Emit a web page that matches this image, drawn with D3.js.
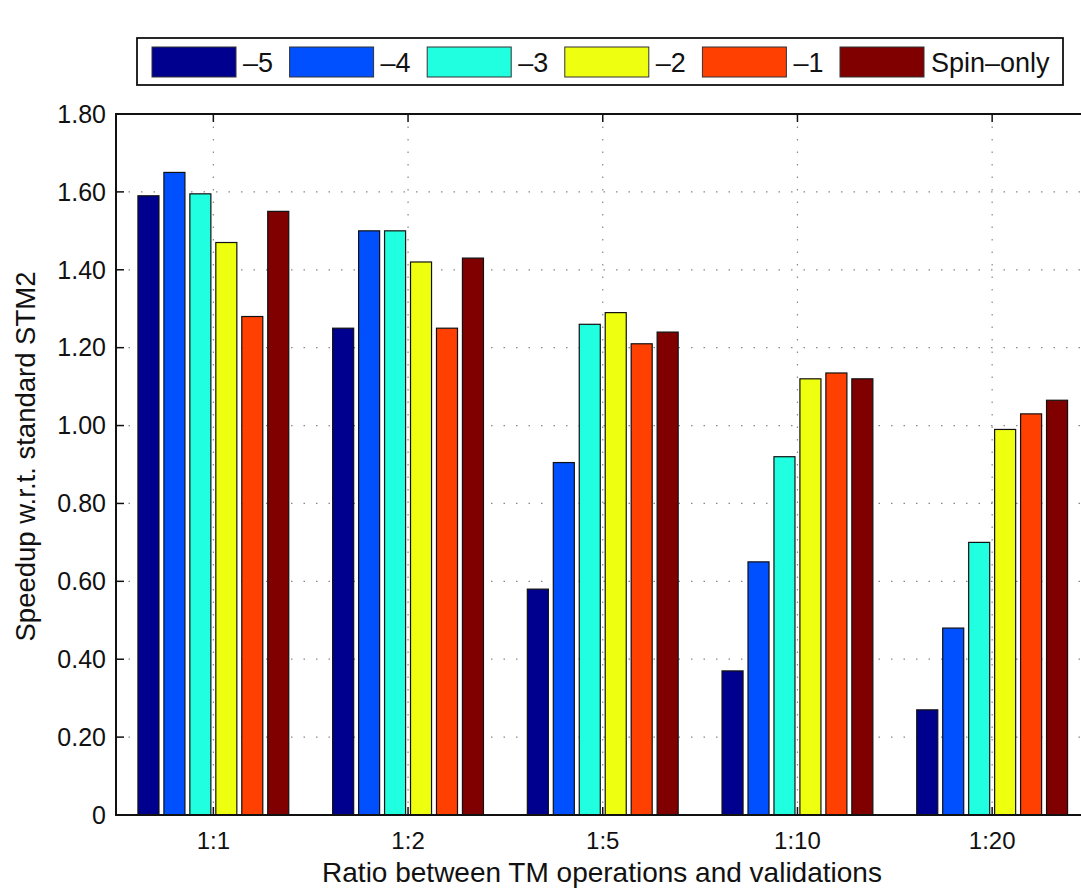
<!DOCTYPE html>
<html>
<head>
<meta charset="utf-8">
<script src="https://cdn.jsdelivr.net/npm/d3@7"></script>
<style>
  body { margin: 0; background: #fff; }
  text { font-family: "Liberation Sans", Arial, Helvetica, sans-serif; fill: #111; }
</style>
</head>
<body>
<script>
// ratios on the x axis and the six series (legend entries)
const categories = ['1:1', '1:2', '1:5', '1:10', '1:20'];
const seriesNames = ['\u20135', '\u20134', '\u20133', '\u20132', '\u20131', 'Spin\u2013only'];
const seriesColors = ['#00008f', '#0050ff', '#20ffdf', '#efff10', '#ff4000', '#800000'];

// speedup per series, one value per ratio
const valsM5 = [1.59, 1.25, 0.58, 0.37, 0.27];
const valsM4 = [1.65, 1.50, 0.905, 0.65, 0.48];
const valsM3 = [1.595, 1.50, 1.26, 0.92, 0.70];
const valsM2 = [1.47, 1.42, 1.29, 1.12, 0.99];
const valsM1 = [1.28, 1.25, 1.21, 1.135, 1.03];
const valsSpin = [1.55, 1.43, 1.24, 1.12, 1.065];
const seriesVals = [valsM5, valsM4, valsM3, valsM2, valsM1, valsSpin];

const yTicks = [0, 0.2, 0.4, 0.6, 0.8, 1.0, 1.2, 1.4, 1.6, 1.8];
const yTickLabels = ['0', '0.20', '0.40', '0.60', '0.80', '1.00', '1.20', '1.40', '1.60', '1.80'];

const W = 1081, H = 893;
const plot = {left: 116, right: 1089.5, top: 114, bottom: 815};

const svg = d3.select('body').append('svg')
  .attr('width', W)
  .attr('height', H);

const x = d3.scaleBand()
  .domain(categories)
  .range([plot.left, plot.right])
  .padding(0);
const step = x.bandwidth();

// bars inside a group take 80% of the slot, like matlab's bar()
const xSub = d3.scaleBand()
  .domain(d3.range(seriesNames.length))
  .range([step * 0.1, step * 0.9])
  .paddingInner(0.19)
  .paddingOuter(0.095);

const y = d3.scaleLinear()
  .domain([0, 1.8])
  .range([plot.bottom, plot.top]);

const g = svg.append('g');

// dotted grid
g.append('g').selectAll('line.hgrid')
  .data(yTicks.slice(1, -1))
  .enter().append('line')
    .attr('class', 'hgrid')
    .attr('x1', plot.left).attr('x2', plot.right)
    .attr('y1', d => y(d)).attr('y2', d => y(d))
    .style('stroke', '#888')
    .style('stroke-width', 1.2)
    .style('stroke-dasharray', '1.5,11');

g.append('g').selectAll('line.vgrid')
  .data(categories)
  .enter().append('line')
    .attr('class', 'vgrid')
    .attr('x1', d => x(d) + step / 2).attr('x2', d => x(d) + step / 2)
    .attr('y1', plot.top).attr('y2', plot.bottom)
    .style('stroke', '#888')
    .style('stroke-width', 1.2)
    .style('stroke-dasharray', '1.5,11');

// bars
const groups = g.selectAll('.group')
  .data(categories)
  .enter().append('g')
    .attr('class', 'group')
    .attr('transform', d => `translate(${x(d)},0)`);

groups.selectAll('rect')
  .data((c, ci) => seriesVals.map((vals, si) => ({si, v: vals[ci]})))
  .enter().append('rect')
    .attr('x', d => xSub(d.si))
    .attr('width', xSub.bandwidth())
    .attr('y', d => y(d.v))
    .attr('height', d => plot.bottom - y(d.v))
    .style('fill', d => seriesColors[d.si])
    .style('stroke', '#111')
    .style('stroke-width', 1.2);

// axes box
g.append('rect')
  .attr('x', plot.left).attr('y', plot.top)
  .attr('width', plot.right - plot.left)
  .attr('height', plot.bottom - plot.top)
  .style('fill', 'none')
  .style('stroke', '#111')
  .style('stroke-width', 2);

const tickLen = 8;
// y ticks, left and right, pointing inward
g.append('g').selectAll('line')
  .data(yTicks)
  .enter().append('line')
    .attr('x1', plot.left).attr('x2', plot.left + tickLen)
    .attr('y1', d => y(d)).attr('y2', d => y(d))
    .style('stroke', '#111').style('stroke-width', 1.5);
g.append('g').selectAll('line')
  .data(yTicks)
  .enter().append('line')
    .attr('x1', plot.right - tickLen).attr('x2', plot.right)
    .attr('y1', d => y(d)).attr('y2', d => y(d))
    .style('stroke', '#111').style('stroke-width', 1.5);
// x ticks, bottom and top
g.append('g').selectAll('line')
  .data(categories)
  .enter().append('line')
    .attr('x1', d => x(d) + step / 2).attr('x2', d => x(d) + step / 2)
    .attr('y1', plot.bottom).attr('y2', plot.bottom - tickLen)
    .style('stroke', '#111').style('stroke-width', 1.5);
g.append('g').selectAll('line')
  .data(categories)
  .enter().append('line')
    .attr('x1', d => x(d) + step / 2).attr('x2', d => x(d) + step / 2)
    .attr('y1', plot.top).attr('y2', plot.top + tickLen)
    .style('stroke', '#111').style('stroke-width', 1.5);

// tick labels
svg.append('g').selectAll('text')
  .data(yTicks)
  .enter().append('text')
    .attr('x', plot.left - 10)
    .attr('y', d => y(d))
    .attr('dy', '0.35em')
    .attr('text-anchor', 'end')
    .style('font-size', '25px')
    .text((d, i) => yTickLabels[i]);

svg.append('g').selectAll('text')
  .data(categories)
  .enter().append('text')
    .attr('x', d => x(d) + step / 2)
    .attr('y', 849)
    .attr('text-anchor', 'middle')
    .style('font-size', '24px')
    .text(d => d);

// axis titles
svg.append('text')
  .attr('x', 602)
  .attr('y', 882)
  .attr('text-anchor', 'middle')
  .style('font-size', '28px')
  .text('Ratio between TM operations and validations');

svg.append('text')
  .attr('transform', `translate(35,${(plot.top + plot.bottom) / 2 - 8}) rotate(-90)`)
  .attr('text-anchor', 'middle')
  .style('font-size', '27.5px')
  .text('Speedup w.r.t. standard STM2');

// legend
const legend = svg.append('g');
legend.append('rect')
  .attr('x', 137).attr('y', 38)
  .attr('width', 926).attr('height', 47)
  .style('fill', '#fff')
  .style('stroke', '#111')
  .style('stroke-width', 1.8);

const items = legend.selectAll('.item')
  .data(seriesNames)
  .enter().append('g')
    .attr('class', 'item')
    .attr('transform', (d, i) => `translate(${152 + i * 137.6},47)`);

items.append('rect')
  .attr('width', 84).attr('height', 30)
  .style('fill', (d, i) => seriesColors[i])
  .style('stroke', '#333')
  .style('stroke-width', 1);

items.append('text')
  .attr('x', 91)
  .attr('y', 16)
  .attr('dy', '0.35em')
  .style('font-size', '27px')
  .text(d => d);
</script>
</body>
</html>
